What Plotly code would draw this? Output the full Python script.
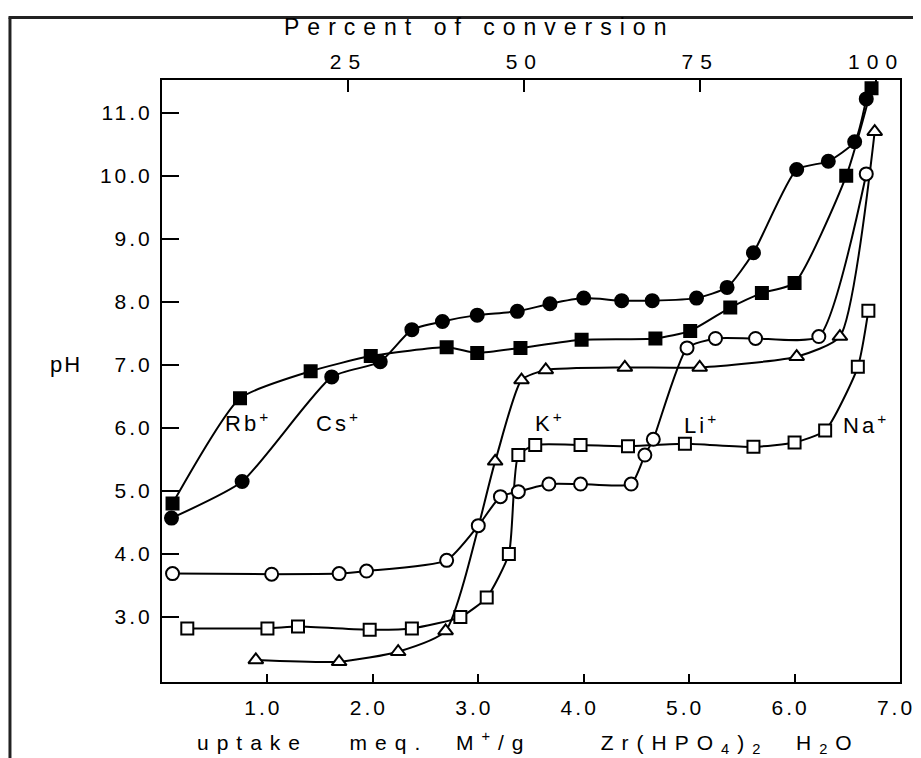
import plotly.graph_objects as go

# ---- data (x: uptake meq M+/g, y: pH) ----
rb_x = [0.10, 0.74, 1.41, 1.98, 2.70, 2.99, 3.40, 3.98, 4.68, 5.01, 5.39, 5.69, 6.00, 6.49, 6.73]
rb_y = [4.80, 6.47, 6.90, 7.14, 7.28, 7.19, 7.27, 7.40, 7.42, 7.54, 7.91, 8.14, 8.30, 10.00, 11.39]

cs_x = [0.09, 0.76, 1.61, 2.07, 2.37, 2.66, 2.99, 3.37, 3.68, 4.00, 4.36, 4.65, 5.07, 5.36, 5.61, 6.02, 6.32, 6.57, 6.68]
cs_y = [4.57, 5.15, 6.81, 7.05, 7.56, 7.69, 7.79, 7.85, 7.97, 8.06, 8.02, 8.02, 8.06, 8.23, 8.78, 10.10, 10.23, 10.54, 11.22]

li_x = [0.10, 1.04, 1.68, 1.94, 2.70, 3.00, 3.21, 3.38, 3.67, 3.97, 4.45, 4.58, 4.66, 4.98, 5.25, 5.63, 6.23, 6.68]
li_y = [3.69, 3.68, 3.69, 3.73, 3.90, 4.45, 4.91, 4.99, 5.11, 5.11, 5.11, 5.57, 5.82, 7.27, 7.42, 7.42, 7.45, 10.03]

k_x = [0.89, 1.68, 2.24, 2.69, 3.16, 3.41, 3.64, 4.39, 5.10, 6.02, 6.43, 6.76]
k_y = [2.32, 2.29, 2.45, 2.78, 5.47, 6.76, 6.92, 6.96, 6.96, 7.13, 7.45, 10.70]

na_x = [0.24, 1.00, 1.29, 1.97, 2.37, 2.83, 3.08, 3.29, 3.38, 3.54, 3.97, 4.42, 4.96, 5.61, 6.00, 6.29, 6.60, 6.70]
na_y = [2.82, 2.82, 2.85, 2.80, 2.82, 3.00, 3.31, 4.00, 5.57, 5.73, 5.73, 5.71, 5.75, 5.70, 5.77, 5.96, 6.97, 7.86]

x_ticks = [1, 2, 3, 4, 5, 6, 7]
x_labels = ["1.0", "2.0", "3.0", "4.0", "5.0", "6.0", "7.0"]
y_ticks = [3, 4, 5, 6, 7, 8, 9, 10, 11]
y_labels = ["3.0", "4.0", "5.0", "6.0", "7.0", "8.0", "9.0", "10.0", "11.0"]
pct_ticks = [25, 50, 75, 100]
pct_labels = ["25", "50", "75", "100"]

ion_labels = ["Rb<sup>+</sup>", "Cs<sup>+</sup>", "K<sup>+</sup>", "Li<sup>+</sup>", "Na<sup>+</sup>"]
ion_x = [0.82, 1.67, 3.68, 5.12, 6.68]
ion_y = [6.10, 6.10, 6.10, 6.07, 6.07]

FONT = "Liberation Sans"
NB = "\u00a0"


def sp(t, ls):
    return f'<span style="letter-spacing:{ls}px">{t}</span>'


fig = go.Figure()


def add(xs, ys, symbol, filled, size):
    fig.add_trace(go.Scatter(
        x=xs, y=ys, mode="lines+markers",
        line=dict(color="black", width=2, shape="spline", smoothing=0.55),
        marker=dict(symbol=symbol, size=size,
                    color="black" if filled else "white",
                    line=dict(color="black", width=2)),
        cliponaxis=False, showlegend=False, hoverinfo="x+y"))


add(na_x, na_y, "square", False, 12)
add(k_x, k_y, "triangle-up", False, 13)
add(li_x, li_y, "circle", False, 13)
add(rb_x, rb_y, "square", True, 12)
add(cs_x, cs_y, "circle", True, 13)

# empty trace so the top (percent) axis is drawn
fig.add_trace(go.Scatter(x=[], y=[], xaxis="x2", yaxis="y", showlegend=False, hoverinfo="skip"))

for t, x, y in zip(ion_labels, ion_x, ion_y):
    fig.add_annotation(x=x, y=y, text=sp(t, 3), showarrow=False,
                       xanchor="center", yanchor="middle",
                       font=dict(family=FONT, size=22, color="black"))

fig.add_annotation(xref="paper", yref="y", x=-0.13, y=7.0, text=sp("pH", 2),
                   showarrow=False, xanchor="center", yanchor="middle",
                   font=dict(family=FONT, size=22, color="black"))
fig.add_annotation(xref="paper", yref="paper", x=0.43, y=1.088,
                   text=sp("Percent of conversion", 8), showarrow=False,
                   xanchor="center", yanchor="middle",
                   font=dict(family=FONT, size=23, color="black"))
bottom_title = ("uptake" + NB * 2 + " meq." + NB * 2 + "M<sup>+</sup>/g" + NB * 4 +
                " Zr(HPO<sub>4</sub>)<sub>2</sub>" + NB * 2 + "H<sub>2</sub>O")
fig.add_annotation(xref="paper", yref="paper", x=0.497, y=-0.10,
                   text=sp(bottom_title, 8),
                   showarrow=False, xanchor="center", yanchor="middle",
                   font=dict(family=FONT, size=21, color="black"))

# outer frame of the picture (left and top edges visible)
fig.add_shape(type="line", xref="paper", yref="paper", x0=-0.206, x1=-0.206, y0=1.104, y1=-0.2,
              line=dict(color="#222", width=3), layer="above")
fig.add_shape(type="line", xref="paper", yref="paper", x0=-0.208, x1=1.027, y0=1.104, y1=1.104,
              line=dict(color="#222", width=3), layer="above")

tickfont = dict(family=FONT, size=21, color="black")
fig.update_layout(
    template="none",
    width=913, height=750,
    margin=dict(l=154, r=21, t=72, b=76, autoexpand=False),
    paper_bgcolor="white", plot_bgcolor="white",
    font=dict(family=FONT, color="black"),
    showlegend=False,
    xaxis=dict(range=[0, 7.0], tickvals=x_ticks, ticktext=[sp(t, 3) for t in x_labels],
               ticks="inside", ticklen=8, tickwidth=2, tickcolor="black",
               showline=True, linewidth=2, linecolor="black", mirror=True, automargin=False,
               showgrid=False, zeroline=False, tickfont=tickfont, ticklabelstandoff=6,
               ticklabelshift=-4),
    xaxis2=dict(range=[-1.5, 103.4], overlaying="x", side="top", anchor="y",
                tickvals=pct_ticks, ticktext=[sp(t, 7) for t in pct_labels], automargin=False,
                ticks="inside", ticklen=12, tickwidth=2, tickcolor="black",
                showline=False, showgrid=False, zeroline=False, tickfont=tickfont,
                ticklabelstandoff=6),
    yaxis=dict(range=[1.97, 11.52], tickvals=y_ticks, ticktext=[sp(t, 3) for t in y_labels],
               ticks="inside", ticklen=17, tickwidth=2, tickcolor="black", automargin=False,
               showline=True, linewidth=2, linecolor="black", mirror=True,
               showgrid=False, zeroline=False, tickfont=tickfont, ticklabelstandoff=3),
)

fig.write_html("out.html")
